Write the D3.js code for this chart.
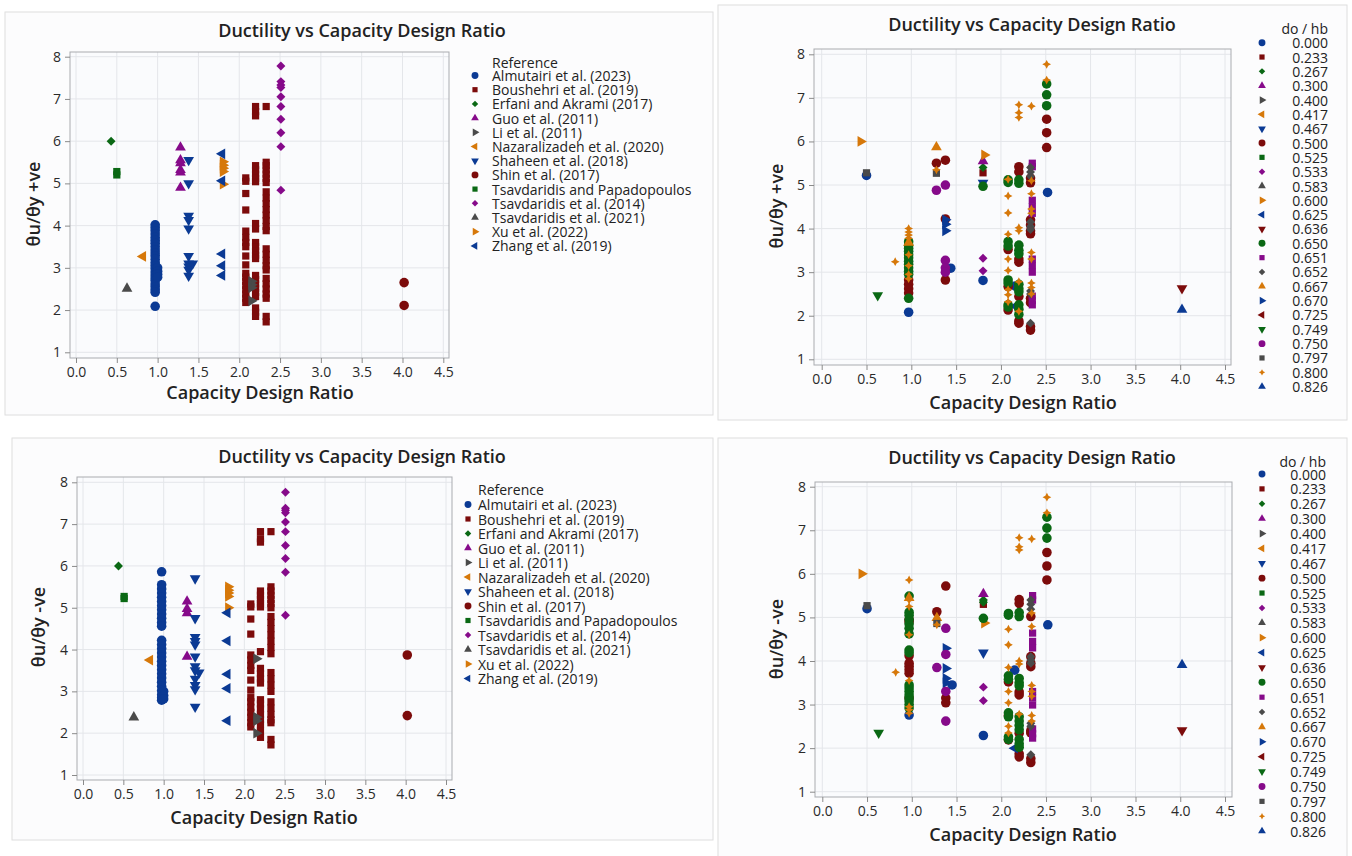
<!DOCTYPE html>
<html>
<head>
<meta charset="utf-8">
<script src="https://cdn.jsdelivr.net/npm/d3@7"></script>
<style>
  body { margin: 0; background: #ffffff; font-family: "Open Sans", "Noto Sans", sans-serif; }
</style>
</head>
<body>
<svg id="chart" width="1352" height="856"></svg>
<script>
'use strict';

const xTicks = [0, 0.5, 1, 1.5, 2, 2.5, 3, 3.5, 4, 4.5];
const yTicks = [1, 2, 3, 4, 5, 6, 7, 8];

const references = [
  'Almutairi et al. (2023)', 'Boushehri et al. (2019)', 'Erfani and Akrami (2017)',
  'Guo et al. (2011)', 'Li et al. (2011)', 'Nazaralizadeh et al. (2020)',
  'Shaheen et al. (2018)', 'Shin et al. (2017)', 'Tsavdaridis and Papadopoulos',
  'Tsavdaridis et al. (2014)', 'Tsavdaridis et al. (2021)', 'Xu et al. (2022)',
  'Zhang et al. (2019)'
];

const dohbLevels = [
  '0.000', '0.233', '0.267', '0.300', '0.400', '0.417', '0.467', '0.500', '0.525',
  '0.533', '0.583', '0.600', '0.625', '0.636', '0.650', '0.651', '0.652', '0.667',
  '0.670', '0.725', '0.749', '0.750', '0.797', '0.800', '0.826'
];

// rows: [series index, capacity design ratio, [ductility values]]
const posByRef = [
  [0, 0.97, [4.02, 3.95, 3.88, 3.8, 3.72, 3.65, 3.58, 3.5, 3.42, 3.35, 3.28, 3.2, 3.12, 3.05, 2.98, 2.9, 2.83, 2.76, 2.7, 2.62, 2.55, 2.48, 2.42, 2.09]],
  [0, 1.0, [3.0, 2.92, 2.85, 2.78]],
  [1, 2.08, [5.13, 5.05, 4.76, 4.37, 3.87, 3.72, 3.6, 3.5, 3.28, 3.07, 2.87, 2.78, 2.68, 2.58, 2.48, 2.38, 2.28, 2.18]],
  [1, 2.2, [6.82, 6.7, 6.6, 5.42, 5.32, 5.22, 5.12, 5.04, 4.05, 3.92, 3.6, 3.5, 3.4, 3.3, 3.22, 2.82, 2.72, 2.62, 2.52, 2.42, 2.32, 2.05, 1.95, 1.85]],
  [1, 2.33, [6.82, 5.5, 5.42, 5.32, 5.22, 5.12, 5.02, 4.8, 4.65, 4.52, 4.38, 4.25, 4.12, 3.98, 3.88, 3.45, 3.32, 3.18, 3.05, 2.95, 2.75, 2.62, 2.5, 2.38, 2.28, 1.85, 1.72]],
  [2, 0.43, [6.0]],
  [3, 1.28, [5.85, 5.55, 5.48, 5.32, 5.26, 4.9]],
  [4, 2.15, [2.68, 2.6, 2.53, 2.22]],
  [5, 0.82, [3.27]],
  [6, 1.38, [5.55, 5.0, 4.23, 4.13, 3.93, 3.28, 3.1, 3.03, 2.95, 2.81]],
  [6, 1.43, [3.1]],
  [7, 4.02, [2.65, 2.11]],
  [8, 0.5, [5.2, 5.28]],
  [9, 2.51, [7.78, 7.41, 7.33, 7.27, 7.05, 6.82, 6.52, 6.2, 5.87, 4.84]],
  [10, 0.625, [2.51]],
  [11, 1.8, [5.51, 5.43, 5.36, 5.28, 4.98]],
  [12, 1.79, [5.7, 5.06, 3.33, 3.05, 2.82]]
];

const negByRef = [
  [0, 0.975, [5.86, 5.55, 5.45, 5.35, 5.25, 5.15, 5.05, 4.95, 4.85, 4.75, 4.65, 4.56, 4.22, 4.12, 4.02, 3.92, 3.82, 3.72, 3.62, 3.52, 3.42, 3.32, 3.22, 3.12, 3.02, 2.92, 2.85, 2.79]],
  [0, 1.0, [3.0, 2.9, 2.82]],
  [1, 2.08, [5.09, 5.02, 4.73, 4.37, 3.87, 3.75, 3.62, 3.5, 3.27, 3.03, 2.85, 2.75, 2.62, 2.5, 2.38, 2.25, 2.15]],
  [1, 2.2, [6.82, 6.65, 6.57, 5.4, 5.3, 5.2, 5.1, 5.02, 3.95, 3.55, 3.42, 3.3, 3.2, 2.8, 2.7, 2.58, 2.45, 2.32, 2.2, 2.05, 1.9]],
  [1, 2.33, [6.82, 5.5, 5.4, 5.3, 5.2, 5.1, 5.0, 4.79, 4.65, 4.5, 4.35, 4.2, 4.05, 3.9, 3.45, 3.3, 3.15, 3.0, 2.75, 2.6, 2.45, 2.32, 2.25, 1.85, 1.72]],
  [2, 0.44, [6.0]],
  [3, 1.29, [5.15, 4.97, 4.87, 3.83]],
  [4, 2.15, [3.78, 2.38, 2.3, 2.0]],
  [5, 0.83, [3.75]],
  [6, 1.39, [5.7, 4.75, 4.3, 4.2, 4.12, 3.83, 3.6, 3.5, 3.3, 3.15, 3.05, 2.63]],
  [6, 1.44, [3.45]],
  [7, 4.02, [3.87, 2.42]],
  [8, 0.51, [5.22, 5.27]],
  [9, 2.51, [7.76, 7.38, 7.33, 7.27, 7.05, 6.82, 6.49, 6.18, 5.85, 4.82]],
  [10, 0.63, [2.38]],
  [11, 1.8, [5.5, 5.42, 5.35, 5.27, 5.0]],
  [12, 1.79, [4.88, 4.21, 3.41, 3.07, 2.3]]
];

const posByDohb = [
  [0, 0.5, [5.22]], [0, 0.97, [2.08]], [0, 1.44, [3.09]], [0, 1.8, [2.81]], [0, 2.52, [4.83]], [0, 2.16, [2.68]],
  [1, 1.8, [5.28]],
  [2, 1.8, [5.4]],
  [3, 1.8, [5.55]],
  [6, 1.8, [5.05]],
  [7, 0.97, [2.82, 2.72, 2.62, 2.52]], [7, 1.28, [5.5]], [7, 1.38, [5.57, 4.22, 2.82]],
  [7, 2.08, [3.52, 2.67, 2.13]], [7, 2.2, [5.42, 5.3, 3.3, 3.23, 2.44, 1.88, 1.83]],
  [7, 2.33, [5.16, 5.05, 4.2, 4.08, 3.95, 3.88, 2.4, 2.3, 1.75, 1.67]], [7, 2.51, [6.51, 6.2, 5.86]],
  [9, 1.8, [3.32, 3.03]],
  [11, 0.435, [6.0]], [11, 1.815, [5.69]],
  [12, 2.16, [2.22]],
  [13, 4.02, [2.63]],
  [14, 0.97, [3.7, 3.62, 3.55, 3.48, 3.4, 3.33, 3.25, 3.18, 3.1, 3.02, 2.95, 2.4]], [14, 1.8, [4.97]],
  [14, 2.08, [5.12, 5.06, 3.7, 3.6, 2.82, 2.75, 2.25, 2.2]],
  [14, 2.2, [5.12, 5.04, 3.62, 3.5, 3.42, 2.72, 2.62, 2.55, 2.25, 2.15, 2.03]], [14, 2.51, [7.32, 7.07, 6.82]],
  [15, 2.35, [5.5, 5.42, 4.65, 4.5, 4.35, 3.3, 3.15, 3.0, 2.45, 2.35, 2.25]],
  [16, 2.33, [5.4, 5.3, 5.2, 4.15, 4.05, 3.98, 2.57, 2.5, 1.83]],
  [17, 1.28, [5.87]], [17, 0.97, [3.68]],
  [18, 1.38, [4.2, 4.1, 3.95]],
  [20, 0.625, [2.47]],
  [21, 1.28, [4.88]], [21, 1.38, [5.0, 3.27, 3.1, 3.0]],
  [22, 0.5, [5.28]], [22, 1.28, [5.27]],
  [23, 0.82, [3.24]], [23, 0.97, [4.0, 3.92, 3.85, 3.78, 3.4, 3.15, 2.95, 2.85]], [23, 1.28, [5.35]],
  [23, 2.08, [5.13, 4.75, 4.36, 3.87, 3.3, 3.04, 2.6, 2.48, 2.32]],
  [23, 2.2, [6.84, 6.66, 6.55, 4.02, 3.95, 2.78, 2.1]],
  [23, 2.34, [6.81, 5.1, 4.8, 4.45, 4.35, 3.45, 3.3, 2.75, 2.65, 2.5]], [23, 2.51, [7.77, 7.41]],
  [24, 4.02, [2.14]]
];

const negByDohb = [
  [0, 0.5, [5.2]], [0, 0.97, [2.76]], [0, 1.45, [3.45]], [0, 1.8, [2.29]], [0, 2.52, [4.83]], [0, 2.15, [3.79]],
  [1, 1.8, [5.3]],
  [2, 1.8, [5.4, 5.35]],
  [3, 1.8, [5.54]],
  [6, 1.8, [4.19]],
  [7, 0.97, [4.95, 4.9, 4.12, 3.95, 3.88, 3.8, 3.72, 3.15]], [7, 1.28, [5.13]], [7, 1.38, [5.72, 3.15, 3.04]],
  [7, 2.08, [3.52, 2.75, 2.19]], [7, 2.2, [5.41, 5.32, 3.29, 3.22, 2.34, 1.87, 1.8]],
  [7, 2.33, [5.02, 4.1, 3.95, 3.87, 2.4, 2.35, 1.76, 1.67]], [7, 2.51, [6.49, 6.18, 5.86]],
  [9, 1.8, [3.4, 3.09]],
  [11, 0.44, [6.0]], [11, 1.81, [4.87]],
  [12, 2.15, [2.0]],
  [13, 4.02, [2.41]],
  [14, 0.97, [5.49, 5.12, 5.05, 4.95, 4.85, 4.75, 4.62, 4.25, 4.19, 3.45, 3.38, 3.3, 3.22, 3.15, 3.08, 3.0, 2.92]], [14, 1.8, [4.98]],
  [14, 2.08, [5.09, 5.05, 3.66, 3.58, 2.81, 2.72, 2.26, 2.2]],
  [14, 2.2, [5.11, 5.02, 3.6, 3.5, 3.43, 2.72, 2.62, 2.52, 2.42, 2.2, 2.1, 2.02]], [14, 2.51, [7.3, 7.05, 6.82]],
  [15, 2.35, [5.5, 5.4, 4.64, 4.45, 4.3, 3.3, 3.15, 2.99, 2.44, 2.33, 2.23]],
  [16, 2.33, [5.4, 5.3, 5.19, 4.1, 4.02, 3.95, 2.57, 2.5, 1.85]],
  [17, 1.28, [4.99]], [17, 0.97, [5.45]],
  [18, 1.38, [4.29, 3.83, 3.6, 3.5]],
  [20, 0.63, [2.35]],
  [21, 1.28, [3.85]], [21, 1.38, [4.75, 4.15, 3.3, 2.62]],
  [22, 0.5, [5.27]], [22, 1.28, [4.86]],
  [23, 0.82, [3.74]], [23, 0.97, [5.86, 5.4, 5.25, 4.6, 3.55, 2.95, 2.88, 2.8]], [23, 1.28, [4.83]],
  [23, 2.08, [4.73, 4.37, 3.85, 3.3, 3.04, 2.5, 2.35]],
  [23, 2.2, [6.83, 6.62, 6.55, 4.0, 3.93, 2.78]],
  [23, 2.34, [6.8, 5.1, 4.79, 3.44, 3.3, 3.19, 2.75, 2.62]], [23, 2.51, [7.76, 7.4]],
  [24, 4.02, [3.91]]
];

const palette = ['#0b3a94', '#7c0b0b', '#0a6814', '#860a8a', '#4a4a4a', '#d6780a'];
const shapeCycle = ['circle', 'square', 'diamond', 'up', 'right', 'left', 'down'];
const fontStack = '"Open Sans", "Noto Sans", sans-serif';

const svg = d3.select('#chart');

// small four-pointed star used for the 24th group
const star4 = {
  draw: function (ctx, size) {
    const r = Math.sqrt(size) * 0.75;
    const q = r * 0.35;
    ctx.moveTo(0, -r);
    ctx.lineTo(q, -q);
    ctx.lineTo(r, 0);
    ctx.lineTo(q, q);
    ctx.lineTo(0, r);
    ctx.lineTo(-q, q);
    ctx.lineTo(-r, 0);
    ctx.lineTo(-q, -q);
    ctx.closePath();
  }
};

function markerFor(i, starIndex) {
  const shape = shapeCycle[i % 7];
  if (i === starIndex) return { path: d3.symbol(star4, 34)(), rot: 0 };
  if (shape === 'circle') return { path: d3.symbol(d3.symbolCircle, 72)(), rot: 0 };
  if (shape === 'square') return { path: d3.symbol(d3.symbolSquare, 52)(), rot: 0 };
  if (shape === 'diamond') return { path: d3.symbol(d3.symbolSquare, 40)(), rot: 45 };
  const tri = d3.symbol(d3.symbolTriangle, 50)();
  const rot = { up: 0, right: 90, down: 180, left: -90 }[shape];
  return { path: tri, rot: rot };
}

function drawPanel(cfg) {
  const g = svg.append('g');

  g.append('rect')
    .attr('x', cfg.box[0]).attr('y', cfg.box[1])
    .attr('width', cfg.box[2]).attr('height', cfg.box[3])
    .attr('fill', '#fcfcfd').attr('stroke', '#dedede');

  const x = d3.scaleLinear().domain([0, 4.5]).range(cfg.xRange);
  const y = d3.scaleLinear().domain([1, 8]).range(cfg.yRange);
  const f = cfg.frame;

  g.append('rect')
    .attr('x', f.l).attr('y', f.t)
    .attr('width', f.r - f.l).attr('height', f.b - f.t)
    .attr('fill', '#fafbfd');

  // grid
  g.append('g').selectAll('line').data(xTicks).join('line')
    .attr('x1', d => x(d)).attr('x2', d => x(d))
    .attr('y1', f.t).attr('y2', f.b)
    .attr('stroke', '#e4e6ea').attr('stroke-width', 1);
  g.append('g').selectAll('line').data(yTicks).join('line')
    .attr('x1', f.l).attr('x2', f.r)
    .attr('y1', d => y(d)).attr('y2', d => y(d))
    .attr('stroke', '#e4e6ea').attr('stroke-width', 1);

  g.append('rect')
    .attr('x', f.l).attr('y', f.t)
    .attr('width', f.r - f.l).attr('height', f.b - f.t)
    .attr('fill', 'none').attr('stroke', '#a9abb0');

  const xAxis = d3.axisBottom(x).tickValues(xTicks).tickFormat(d3.format('.1f')).tickSize(5).tickPadding(4);
  const yAxis = d3.axisLeft(y).tickValues(yTicks).tickFormat(d3.format('d')).tickSize(5).tickPadding(4);

  const xa = g.append('g').attr('transform', `translate(0, ${f.b})`).call(xAxis);
  const ya = g.append('g').attr('transform', `translate(${f.l}, 0)`).call(yAxis);
  [xa, ya].forEach(a => {
    a.select('.domain').remove();
    a.selectAll('line').attr('stroke', '#8a8a8a');
    a.selectAll('text').attr('fill', '#2a2a2a').style('font-size', '14px')
      .style('font-weight', 500).style('font-family', fontStack);
  });

  // points
  const rows = [];
  cfg.data.forEach(r => r[2].forEach(v => rows.push({ s: r[0], x: r[1], y: v })));
  rows.sort((a, b) => a.s - b.s);
  g.append('g').selectAll('path').data(rows).join('path')
    .attr('d', d => markerFor(d.s, cfg.starIndex).path)
    .attr('transform', d => `translate(${x(d.x)}, ${y(d.y)}) rotate(${markerFor(d.s, cfg.starIndex).rot})`)
    .attr('fill', d => palette[d.s % 6]);

  // titles
  g.append('text').text('Ductility vs Capacity Design Ratio')
    .attr('x', cfg.title[0]).attr('y', cfg.title[1])
    .attr('text-anchor', 'middle').attr('fill', '#222')
    .style('font-size', '18px').style('font-weight', 600);
  g.append('text').text('Capacity Design Ratio')
    .attr('x', cfg.xLabel[0]).attr('y', cfg.xLabel[1])
    .attr('text-anchor', 'middle').attr('fill', '#222')
    .style('font-size', '18px').style('font-weight', 600);
  g.append('text').text(cfg.yTitle)
    .attr('transform', `translate(${cfg.yLabel[0]}, ${cfg.yLabel[1]}) rotate(-90)`)
    .attr('text-anchor', 'middle').attr('dominant-baseline', 'central').attr('fill', '#222')
    .style('font-size', '18px').style('font-weight', 600);

  // legend
  const L = cfg.legend;
  g.append('text').text(L.title)
    .attr('x', L.titleX).attr('y', L.titleY)
    .attr('text-anchor', L.anchor).attr('dominant-baseline', 'central').attr('fill', '#222')
    .style('font-size', '14px').style('font-weight', 500);
  const items = g.append('g').selectAll('g').data(L.names).join('g')
    .attr('transform', (d, i) => `translate(0, ${L.y0 + i * L.step})`);
  items.append('path')
    .attr('d', (d, i) => markerFor(i, cfg.starIndex).path)
    .attr('transform', (d, i) => `translate(${L.markerX}, 0) rotate(${markerFor(i, cfg.starIndex).rot}) scale(0.72)`)
    .attr('fill', (d, i) => palette[i % 6]);
  items.append('text').text(d => d)
    .attr('x', L.textX).attr('y', 0)
    .attr('text-anchor', L.anchor).attr('dominant-baseline', 'central').attr('fill', '#222')
    .style('font-size', '14px').style('font-weight', 500);
}

drawPanel({
  box: [5, 12, 708, 403],
  frame: { l: 70, r: 449, t: 52, b: 358 },
  xRange: [76, 443.3], yRange: [352.3, 56.7],
  title: [362, 37], xLabel: [260, 399], yLabel: [33, 204],
  yTitle: 'θu/θy +ve',
  data: posByRef, starIndex: -1,
  legend: { title: 'Reference', names: references, anchor: 'start', titleX: 492, titleY: 62,
            textX: 492, markerX: 475, y0: 75.5, step: 14.2 }
});

drawPanel({
  box: [718, 5, 629, 415],
  frame: { l: 814, r: 1231, t: 49, b: 365 },
  xRange: [821.7, 1225], yRange: [359.3, 54.3],
  title: [1032, 31], xLabel: [1023, 409], yLabel: [776, 206],
  yTitle: 'θu/θy +ve',
  data: posByDohb, starIndex: 23,
  legend: { title: 'do / hb', names: dohbLevels, anchor: 'end', titleX: 1328, titleY: 28,
            textX: 1328, markerX: 1262, y0: 42.7, step: 14.33 }
});

drawPanel({
  box: [12, 438, 701, 402],
  frame: { l: 77, r: 452, t: 477, b: 780 },
  xRange: [83, 446], yRange: [775, 482.3],
  title: [362, 463], xLabel: [264, 824], yLabel: [38, 627],
  yTitle: 'θu/θy -ve',
  data: negByRef, starIndex: -1,
  legend: { title: 'Reference', names: references, anchor: 'start', titleX: 478, titleY: 489,
            textX: 478, markerX: 468, y0: 504.5, step: 14.5 }
});

drawPanel({
  box: [718, 438, 629, 420],
  frame: { l: 815, r: 1232, t: 482, b: 797 },
  xRange: [822.3, 1225], yRange: [791.7, 486.7],
  title: [1032, 464], xLabel: [1023, 841], yLabel: [776, 639],
  yTitle: 'θu/θy -ve',
  data: negByDohb, starIndex: 23,
  legend: { title: 'do / hb', names: dohbLevels, anchor: 'end', titleX: 1326, titleY: 461,
            textX: 1326, markerX: 1262, y0: 474, step: 14.88 }
});
</script>
</body>
</html>
